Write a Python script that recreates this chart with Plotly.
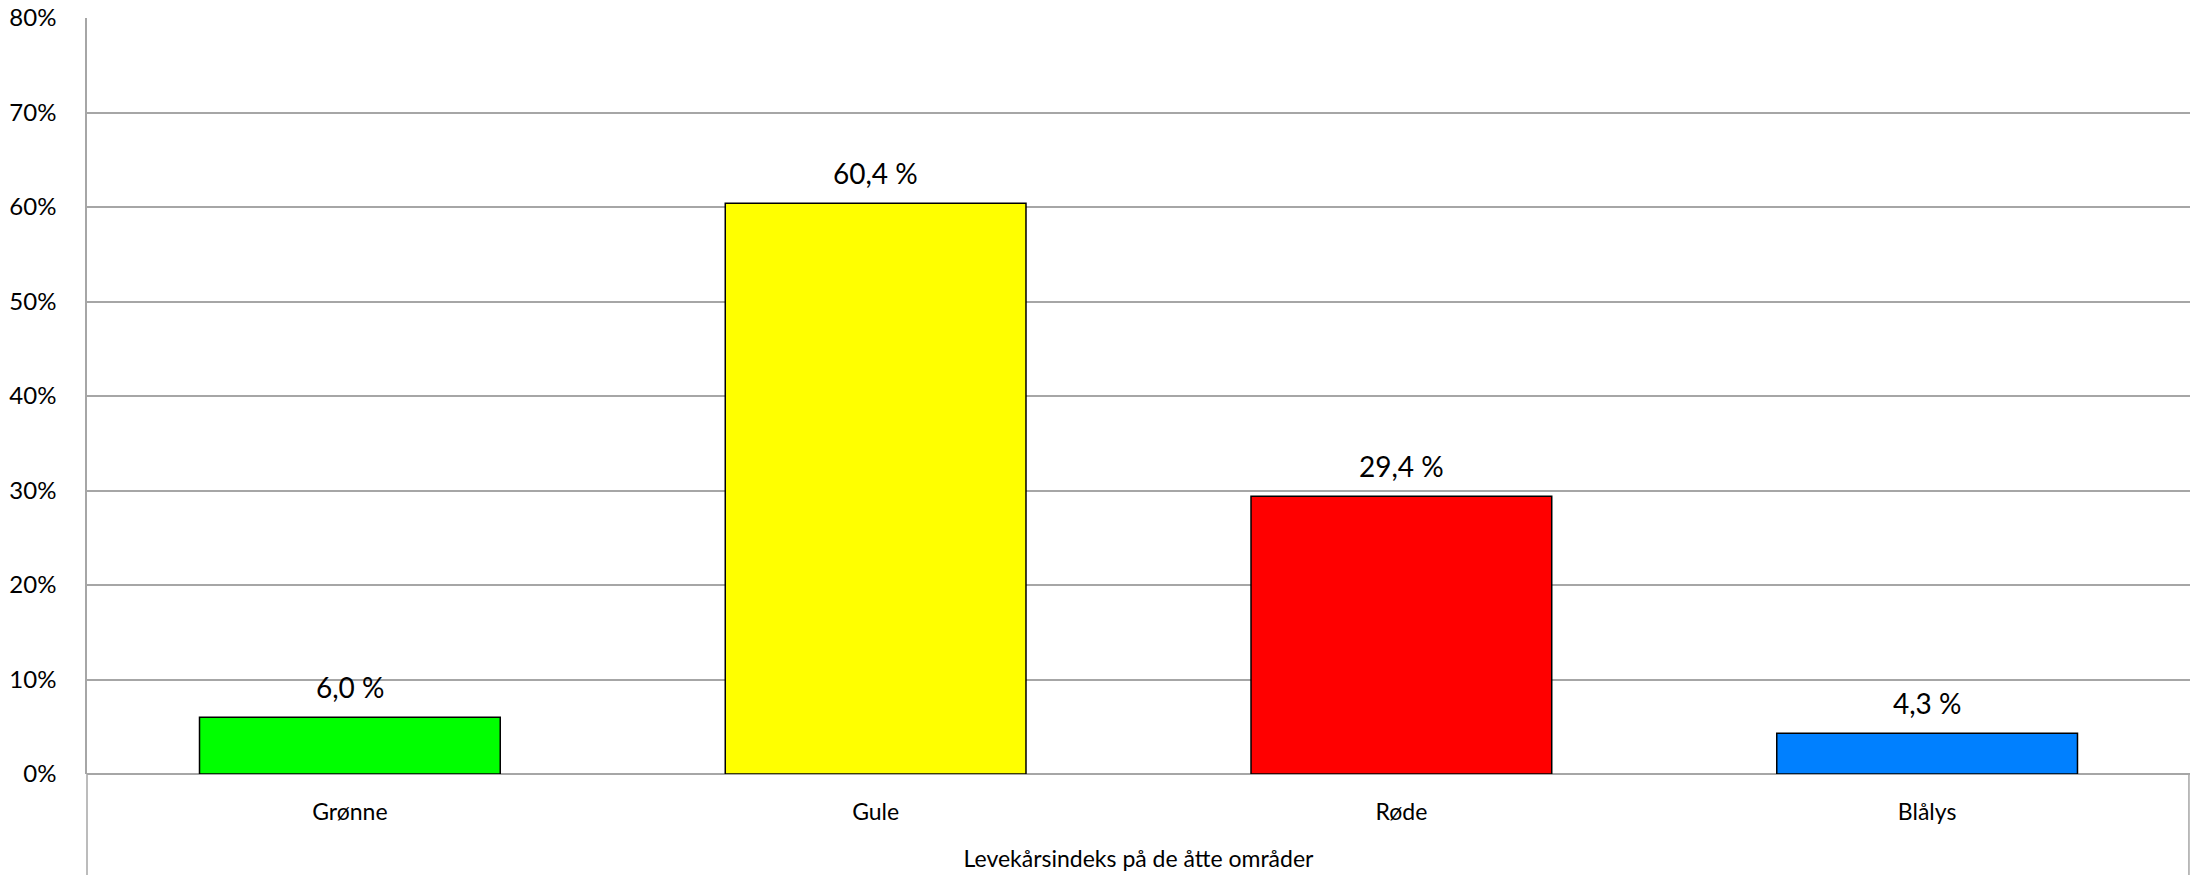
import plotly.graph_objects as go

categories = ["Grønne", "Gule", "Røde", "Blålys"]
values = [0.060, 0.604, 0.294, 0.043]
value_labels = ["6,0 %", "60,4 %", "29,4 %", "4,3 %"]
bar_colors = ["#00FF00", "#FFFF00", "#FF0000", "#0080FF"]
x_title = "Levekårsindeks på de åtte områder"
y_ticks = [0, 0.1, 0.2, 0.3, 0.4, 0.5, 0.6, 0.7, 0.8]

FONT = "Lato, Calibri, Arial, sans-serif"
GRID = "#a6a6a6"

fig = go.Figure()
fig.add_trace(go.Bar(
    x=categories,
    y=values,
    marker=dict(color=bar_colors, line=dict(color="#000000", width=1.5)),
    width=0.572,
    hoverinfo="skip",
))

for c, v, t in zip(categories, values, value_labels):
    fig.add_annotation(x=c, y=v, text=t, showarrow=False, yanchor="middle",
                       yshift=30, font=dict(family=FONT, size=28, color="#000000"))

# outer border pieces below the plotting area
fig.add_shape(type="line", xref="paper", yref="paper", x0=0, x1=0, y0=0, y1=-0.2,
              line=dict(color=GRID, width=1.5))
fig.add_shape(type="line", xref="paper", yref="paper", x0=0.9995, x1=0.9995, y0=0, y1=-0.2,
              line=dict(color=GRID, width=1.5))

fig.update_layout(
    width=2191, height=875,
    margin=dict(l=87, r=1, t=18, b=101),
    paper_bgcolor="#ffffff", plot_bgcolor="#ffffff",
    showlegend=False,
    font=dict(family=FONT, color="#000000"),
    bargap=0.428,
)
fig.update_yaxes(
    range=[0, 0.8], tickvals=y_ticks, tickformat=".0%",
    showgrid=True, gridcolor=GRID, gridwidth=1.5,
    zeroline=True, zerolinecolor=GRID, zerolinewidth=2,
    showline=True, linecolor=GRID, linewidth=1.5,
    ticks="", ticklabelstandoff=24,
    tickfont=dict(family=FONT, size=24, color="#000000"),
    fixedrange=True,
)
fig.update_xaxes(
    showgrid=False, showline=False, ticks="",
    ticklabelstandoff=22,
    tickfont=dict(family=FONT, size=23, color="#000000"),
    title=dict(text=x_title, font=dict(family=FONT, size=23, color="#000000"), standoff=26),
    fixedrange=True,
)

fig.write_html("out.html")
